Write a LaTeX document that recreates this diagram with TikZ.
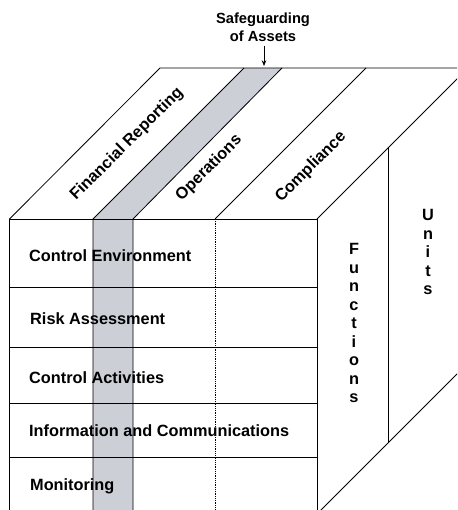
\documentclass[tikz,border=0pt]{standalone}
\usepackage{fontspec}
\setmainfont{Liberation Sans}
\usetikzlibrary{arrows.meta, positioning}
\definecolor{band_gray}{RGB}{204,207,214}
\tikzstyle{cube_line} = [line width=0.8pt, draw=black]
\tikzstyle{band_fill} = [fill=band_gray]
\tikzstyle{row_label} = [anchor=base west, inner sep=0pt, font=\fontsize{16.3}{19}\selectfont\bfseries]
\tikzstyle{top_label} = [rotate=45, inner sep=0pt, font=\fontsize{16.3}{19}\selectfont\bfseries]
\tikzstyle{side_label} = [align=center, inner sep=0pt, font=\fontsize{16.3}{18.5}\selectfont\bfseries]
\tikzstyle{note_label} = [align=center, inner sep=0pt, font=\fontsize{14.7}{18}\selectfont\bfseries]
\tikzstyle{pointer_arrow} = [line width=0.7pt, -{Stealth[length=2mm, width=1.6mm]}]

\begin{document}
\begin{tikzpicture}[x=1pt, y=-1pt]
\useasboundingbox (0,0) rectangle (457,510);
\clip (0,0) rectangle (457,510);

% grey band (safeguarding of assets)
\fill[band_fill] (93,219) -- (244,68) -- (282,68) -- (133,219) -- (133,520) -- (93,520) -- cycle;

% front face
\foreach \y in {287,347,403,457}
  \draw[cube_line] (9.5,\y) -- (317,\y);
\draw[cube_line] (9.5,520) -- (9.5,219) -- (317,219) -- (317,520);
\draw[cube_line] (93,520) -- (93,219) -- (244,68);
\draw[cube_line] (133,520) -- (133,219) -- (282,68);
\draw[cube_line, densely dotted] (215,219) -- (215,520);

% top face
\draw[cube_line] (215,219) -- (366,68);
\draw[cube_line] (9.5,219) -- (160,68) -- (470,68);
\draw[cube_line] (317,219) -- (468,68);

% side face
\draw[cube_line] (388,148) -- (388,443);
\draw[cube_line] (317,514) -- (467,364);

% components
\node (ctrl_env) [row_label] at (29,261) {Control Environment};
\node (risk) [row_label] at (30,324) {Risk Assessment};
\node (ctrl_act) [row_label] at (29,383) {Control Activities};
\node (info_comm) [row_label] at (29,436) {Information and Communications};
\node (monitor) [row_label] at (30,490) {Monitoring};

% objectives
\node (fin_rep) [top_label] at (127,144) {Financial Reporting};
\node (ops) [top_label] at (209,168) {Operations};
\node (compl) [top_label] at (311,167) {Compliance};

% units / functions
\node (functions) [side_label] at (354,323) {F\\u\\n\\c\\t\\i\\o\\n\\s};
\node (units) [side_label] at (428,252) {U\\n\\i\\t\\s};

% safeguarding
\node (safeguard) [note_label] at (263,27) {Safeguarding\\of Assets};
\coordinate (asset_tip) at (264,66);
\draw[pointer_arrow, shorten <=4pt] (safeguard.south -| asset_tip) -- (asset_tip);
\end{tikzpicture}
\end{document}
